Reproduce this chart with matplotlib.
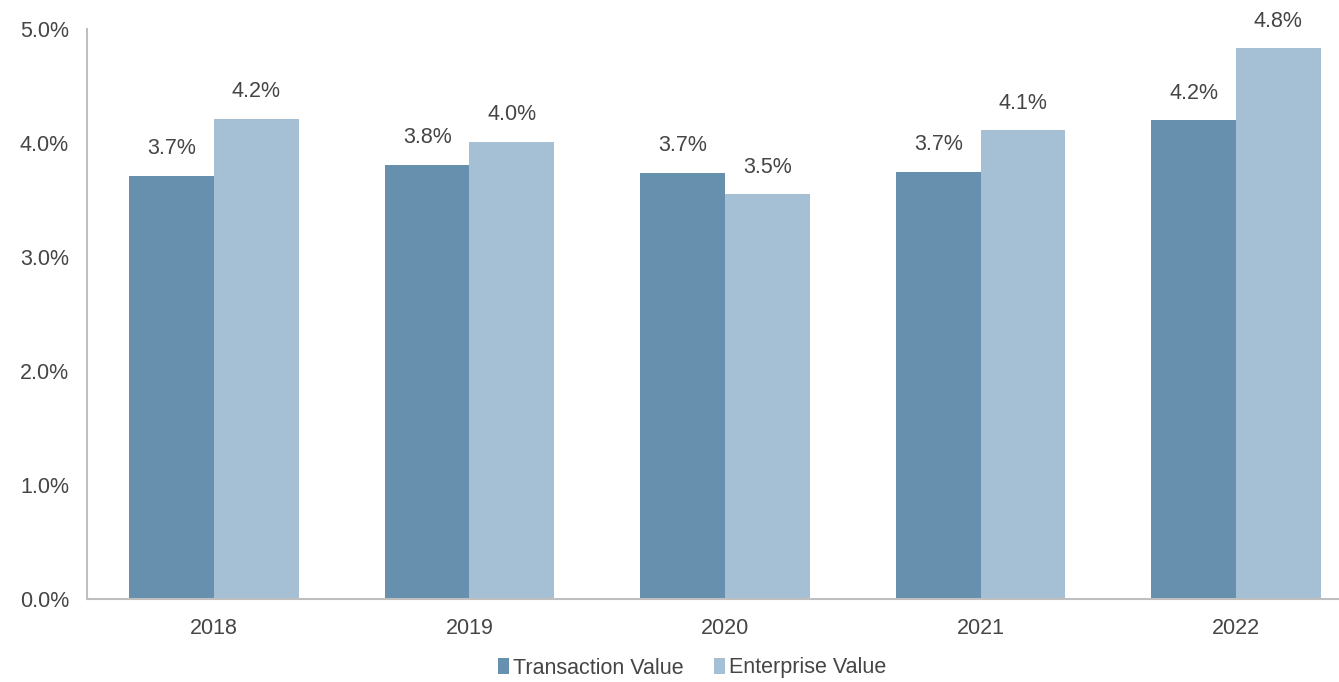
import matplotlib
matplotlib.use("Agg")
import matplotlib.pyplot as plt
import numpy as np

years = ["2018", "2019", "2020", "2021", "2022"]
transaction_value = [3.71, 3.81, 3.74, 3.75, 4.20]
enterprise_value = [4.21, 4.01, 3.55, 4.11, 4.83]
transaction_labels = ["3.7%", "3.8%", "3.7%", "3.7%", "4.2%"]
enterprise_labels = ["4.2%", "4.0%", "3.5%", "4.1%", "4.8%"]
yticks = [0, 1, 2, 3, 4, 5]
ytick_labels = ["0.0%", "1.0%", "2.0%", "3.0%", "4.0%", "5.0%"]

plt.rcParams["font.family"] = ["Liberation Sans", "DejaVu Sans"]
txt = "#454545"
fs = 15.5

fig = plt.figure(figsize=(13.39, 6.82), dpi=100)
ax = fig.add_axes([87/1339, 83/682, 1 - 87/1339, (599-29)/682])

x = np.arange(len(years))
w = 0.331
c1 = "#6690AD"
c2 = "#A5BFD4"
b1 = ax.bar(x - w/2, transaction_value, w, color=c1, label="Transaction Value")
b2 = ax.bar(x + w/2, enterprise_value, w, color=c2, label="Enterprise Value")

for bars, labs in ((b1, transaction_labels), (b2, enterprise_labels)):
    for r, lab in zip(bars, labs):
        ax.annotate(lab, (r.get_x() + r.get_width()/2, r.get_height()),
                    xytext=(0, 12), textcoords="offset points",
                    ha="center", va="bottom", fontsize=fs, color=txt)

ax.set_ylim(0, 5)
ax.set_xlim(-0.497, 4.403)
ax.set_yticks(yticks)
ax.set_yticklabels(ytick_labels, fontsize=fs, color=txt)
ax.set_xticks(x)
ax.set_xticklabels(years, fontsize=fs, color=txt)
ax.tick_params(axis="both", length=0)
ax.tick_params(axis="y", pad=13)
ax.tick_params(axis="x", pad=14)
for s in ("top", "right"):
    ax.spines[s].set_visible(False)
for s in ("left", "bottom"):
    ax.spines[s].set_color("#BFBFBF")
    ax.spines[s].set_linewidth(1.5)

fig.legend(handles=[b1, b2], labels=["Transaction Value", "Enterprise Value"],
           loc="center", bbox_to_anchor=(692/1339, 1 - 668/682), ncol=2,
           frameon=False, fontsize=fs, handlelength=0.5, handleheight=0.7,
           handletextpad=0.2, columnspacing=1.4, labelcolor=txt)

fig.savefig("out.png", dpi=100)
